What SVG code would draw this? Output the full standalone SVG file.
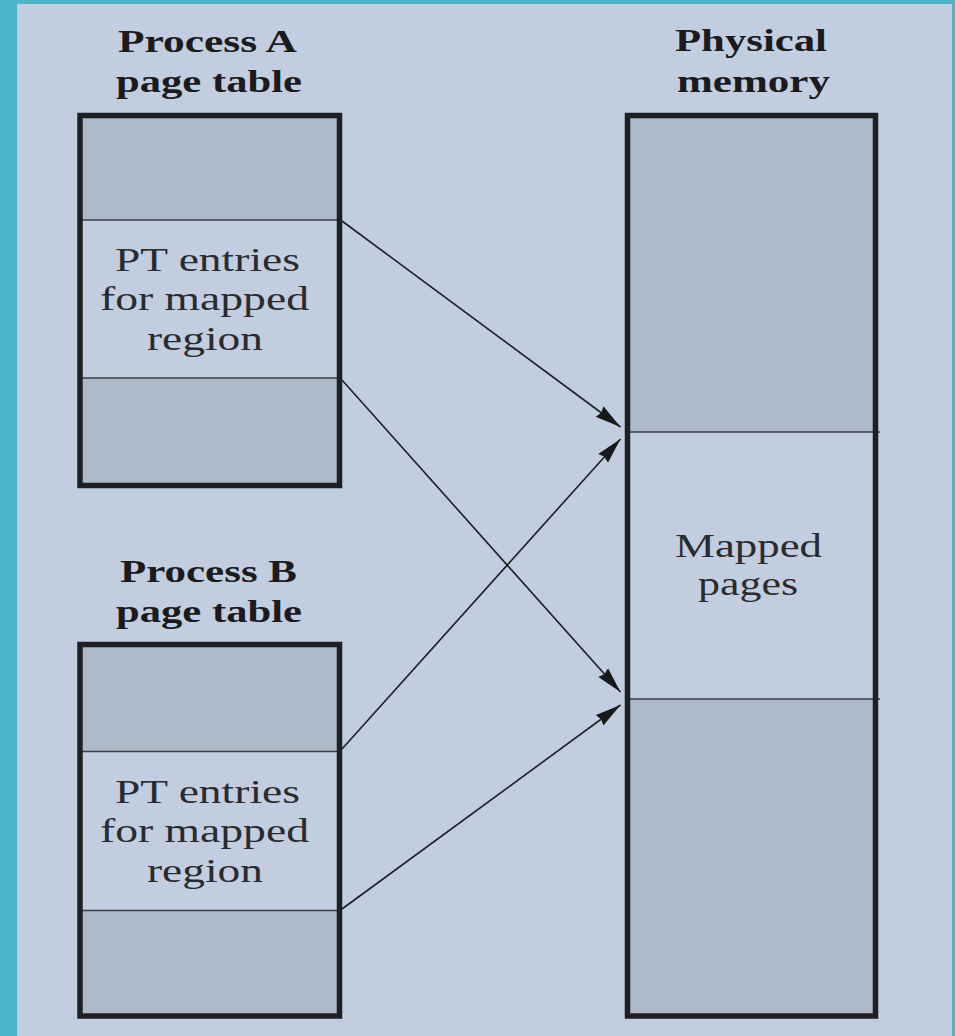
<svg xmlns="http://www.w3.org/2000/svg" width="955" height="1036" viewBox="0 0 955 1036">
  <style>
    .frame { fill: #4DB5C9; }
    .panel { fill: #C2CEDF; }
    .shade { fill: #AEB9CA; }
    .band { fill: #C2CEDF; }
    .outline { fill: none; stroke: #1E1F22; stroke-width: 5.5; }
    .divider { stroke: #3A3D44; stroke-width: 1.6; }
    .head { font-family: "Liberation Serif", "Times New Roman", serif; font-weight: bold; font-size: 32px; fill: #1B1B1D; }
    .body { font-family: "Liberation Serif", "Times New Roman", serif; font-size: 33px; fill: #2A2B2E; }
    .link { fill: none; stroke: #1E1F22; stroke-width: 1.6; marker-end: url(#arrow); }
  </style>
  <defs>
    <marker id="arrow" markerUnits="userSpaceOnUse" markerWidth="28" markerHeight="16" refX="26" refY="7" orient="auto">
      <path d="M0,0.5 L26,7 L0,13.5 L2,7 z" fill="#17181A"/>
    </marker>
  </defs>

  <!-- frame and panel -->
  <rect class="frame" x="0" y="0" width="955" height="1036"/>
  <rect class="panel" x="17" y="4" width="935" height="1032"/>

  <!-- Process A page table -->
  <g id="process-a">
    <text class="head" x="118" y="52" textLength="179" lengthAdjust="spacingAndGlyphs">Process A</text>
    <text class="head" x="116" y="92" textLength="186" lengthAdjust="spacingAndGlyphs">page table</text>
    <rect class="shade" x="80" y="115.5" width="259.5" height="370"/>
    <rect class="band" x="80" y="220" width="259.5" height="158"/>
    <line class="divider" x1="80" y1="220" x2="339.5" y2="220"/>
    <line class="divider" x1="80" y1="378" x2="339.5" y2="378"/>
    <rect class="outline" x="80" y="115.5" width="259.5" height="370"/>
    <text class="body" x="115" y="271" textLength="185" lengthAdjust="spacingAndGlyphs">PT entries</text>
    <text class="body" x="100" y="310" textLength="209" lengthAdjust="spacingAndGlyphs">for mapped</text>
    <text class="body" x="147" y="350" textLength="116" lengthAdjust="spacingAndGlyphs">region</text>
  </g>

  <!-- Process B page table -->
  <g id="process-b">
    <text class="head" x="120" y="582" textLength="177" lengthAdjust="spacingAndGlyphs">Process B</text>
    <text class="head" x="116" y="622" textLength="186" lengthAdjust="spacingAndGlyphs">page table</text>
    <rect class="shade" x="80" y="644.5" width="259.5" height="371.5"/>
    <rect class="band" x="80" y="751.5" width="259.5" height="159"/>
    <line class="divider" x1="80" y1="751.5" x2="339.5" y2="751.5"/>
    <line class="divider" x1="80" y1="910.5" x2="339.5" y2="910.5"/>
    <rect class="outline" x="80" y="644.5" width="259.5" height="371.5"/>
    <text class="body" x="115" y="803" textLength="185" lengthAdjust="spacingAndGlyphs">PT entries</text>
    <text class="body" x="100" y="842" textLength="209" lengthAdjust="spacingAndGlyphs">for mapped</text>
    <text class="body" x="147" y="882" textLength="116" lengthAdjust="spacingAndGlyphs">region</text>
  </g>

  <!-- Physical memory -->
  <g id="physical-memory">
    <text class="head" x="675" y="51" textLength="152" lengthAdjust="spacingAndGlyphs">Physical</text>
    <text class="head" x="677" y="92" textLength="153" lengthAdjust="spacingAndGlyphs">memory</text>
    <rect class="shade" x="627.5" y="115.5" width="248" height="900.5"/>
    <rect class="band" x="627.5" y="432" width="248" height="267"/>
    <line class="divider" x1="627.5" y1="432" x2="880" y2="432"/>
    <line class="divider" x1="627.5" y1="699" x2="880" y2="699"/>
    <rect class="outline" x="627.5" y="115.5" width="248" height="900.5"/>
    <text class="body" x="675" y="557" textLength="147" lengthAdjust="spacingAndGlyphs">Mapped</text>
    <text class="body" x="698" y="595" textLength="100" lengthAdjust="spacingAndGlyphs">pages</text>
  </g>

  <!-- mappings from page-table entries to physical pages -->
  <g id="connectors">
    <line class="link" x1="342" y1="221" x2="620.5" y2="427"/>
    <line class="link" x1="342" y1="380" x2="620.5" y2="692"/>
    <line class="link" x1="342" y1="749" x2="620.5" y2="439"/>
    <line class="link" x1="342" y1="909" x2="620.5" y2="705"/>
  </g>
</svg>
